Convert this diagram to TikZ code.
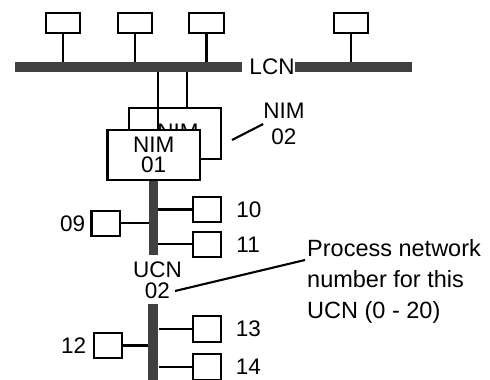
\documentclass[tikz,border=0pt]{standalone}
\usepackage{fontspec}
\setmainfont{Liberation Sans}
\usetikzlibrary{positioning}
\definecolor{busgray}{HTML}{404040}

\begin{document}
\begin{tikzpicture}[x=1pt, y=-1pt,
    bus/.style={fill=busgray, draw=none, inner sep=0pt},
    station/.style={draw, fill=white, line width=2.1pt, minimum width=28.4pt, minimum height=25.4pt, inner sep=0pt},
    topstation/.style={station, minimum width=34.4pt, minimum height=20.4pt},
    nimbox/.style={draw, fill=white, line width=2.1pt, minimum width=92.4pt, minimum height=50.4pt, inner sep=0pt, align=center, font=\fontsize{22.5}{20}\selectfont},
    tap/.style={line width=2.1pt},
    lbl/.style={inner sep=0pt, align=center, font=\fontsize{22.5}{26}\selectfont},
]
\useasboundingbox (0,0) rectangle (490,380);

% LCN bus
\node[bus, minimum width=227pt, minimum height=10.5pt] (lcnL) at (128.5,67) {};
\node[bus, minimum width=117pt, minimum height=10.5pt] (lcnR) at (353.5,67) {};
\node[lbl] (lcn) at (272,67) {LCN};
\foreach \n/\x/\b in {1/63/lcnL, 2/135/lcnL, 3/206.5/lcnL, 4/351/lcnR} {
  \node[topstation] (t\n) at (\x,23) {};
  \draw[tap] (t\n.south) -- (t\n.south |- \b.north);
}

% NIMs
\node[nimbox] (nimB) at (175,133.5) {};
\draw[tap] ([xshift=11.7pt]nimB.north) -- ([xshift=11.7pt]nimB.north |- lcnL.south);
\node[lbl] (nimBt) at (178,132) {NIM};
\node[nimbox] (nimA) at (153.7,155) {NIM\\01};
\draw[tap] ([xshift=4pt]nimA.north) -- ([xshift=4pt]nimA.north |- lcnL.south);
\node[lbl] (nim2) at (284,124) {NIM\\02};
\coordinate (nim2a) at (232,140);
\draw[tap] (nim2a) -- (nim2.west);

% UCN 02
\node[bus, minimum width=9pt, minimum height=74pt] (ucnA) at (153.5,218) {};
\node[bus, minimum width=10pt, minimum height=78pt] (ucnB) at (153.3,343) {};
\node[station] (s09) at (105.7,223.3) {};
\node[station] (s10) at (207,209.5) {};
\node[station] (s11) at (207,244.3) {};
\node[station] (s12) at (108,345.5) {};
\node[station] (s13) at (207,329) {};
\node[station] (s14) at (207,367) {};
\draw[tap] (s09.east) -- (s09.east -| ucnA.west);
\draw[tap] (s10.west) -- (s10.west -| ucnA.east);
\draw[tap] (s11.west) -- (s11.west -| ucnA.east);
\draw[tap] (s12.east) -- (s12.east -| ucnB.west);
\draw[tap] (s13.west) -- (s13.west -| ucnB.east);
\draw[tap] (s14.west) -- (s14.west -| ucnB.east);
\node[lbl, left=5pt of s09] {09};
\node[lbl, right=14pt of s10] {10};
\node[lbl, right=14pt of s11] {11};
\node[lbl, left=6.5pt of s12] {12};
\node[lbl, right=13.5pt of s13] {13};
\node[lbl, right=13.5pt of s14] {14};

\node[lbl, font=\fontsize{22.5}{21}\selectfont] (ucn) at (157.5,280.5) {UCN\\02};
\node[lbl, align=left, anchor=west, font=\fontsize{23.5}{31}\selectfont] (proc) at (307,281) {Process network\\number for this\\UCN (0 - 20)};
\coordinate (u02) at (175,291);
\draw[tap] (u02) -- ([xshift=-2pt, yshift=21pt]proc.west);
\end{tikzpicture}
\end{document}
